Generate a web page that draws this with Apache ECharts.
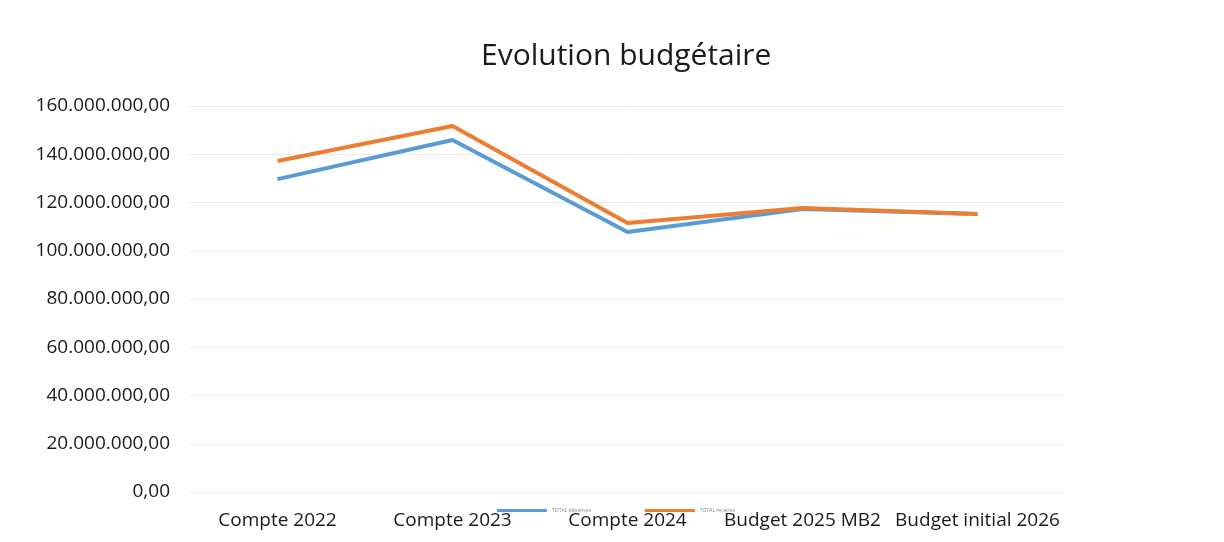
<!DOCTYPE html>
<html>
<head>
<meta charset="utf-8">
<script src="https://cdn.jsdelivr.net/npm/echarts@6/dist/echarts.min.js"></script>
<style>
    html, body { margin: 0; padding: 0; background: #fff; }
    #main { width: 1224px; height: 542px; }
</style>
</head>
<body>
<div id="main"></div>
<script>
var categories = ['Compte 2022', 'Compte 2023', 'Compte 2024', 'Budget 2025 MB2', 'Budget initial 2026'];
var depenses = [129700000, 145900000, 107800000, 117300000, 115200000];
var recettes = [137200000, 151700000, 111500000, 117700000, 115200000];
var seriesNames = ['TOTAL dépenses', 'TOTAL recettes'];

var chartDom = document.getElementById('main');
var myChart = echarts.init(chartDom);
var font = 'Open Sans';

function fmt(v) {
    // 160000000 -> 160.000.000,00
    var s = Math.round(v).toString().replace(/\B(?=(\d{3})+(?!\d))/g, '.');
    return s + ',00';
}

var option = {
    animation: false,
    backgroundColor: '#fff',
    title: {
        text: 'Evolution budgétaire',
        left: 476,
        top: 36,
        textStyle: { fontFamily: font, fontSize: 30, fontWeight: 'normal', color: '#1a1a1a' }
    },
    legend: {
        data: seriesNames,
        left: 492,
        top: 503,
        itemWidth: 50,
        itemHeight: 3,
        itemGap: 54,
        icon: 'rect',
        textStyle: { fontFamily: font, fontSize: 5, color: '#888' }
    },
    color: ['#5b9bd5', '#ed7d31'],
    grid: {
        left: 190,
        right: 159,
        top: 106,
        bottom: 50
    },
    xAxis: {
        type: 'category',
        data: categories,
        axisLine: { show: false },
        axisTick: { show: false },
        axisLabel: {
            fontFamily: font,
            fontSize: 19,
            color: '#1a1a1a',
            margin: 19,
            interval: 0
        }
    },
    yAxis: {
        type: 'value',
        min: 0,
        max: 160000000,
        interval: 20000000,
        axisLine: { show: false },
        axisTick: { show: false },
        axisLabel: {
            fontFamily: font,
            fontSize: 19,
            color: '#1a1a1a',
            margin: 20,
            formatter: fmt
        },
        splitLine: { lineStyle: { color: '#ececec', width: 1 } }
    },
    series: [
        {
            name: seriesNames[0],
            type: 'line',
            data: depenses,
            showSymbol: false,
            lineStyle: { width: 4 }
        },
        {
            name: seriesNames[1],
            type: 'line',
            data: recettes,
            showSymbol: false,
            lineStyle: { width: 4 }
        }
    ]
};
option && myChart.setOption(option);
</script>
</body>
</html>
